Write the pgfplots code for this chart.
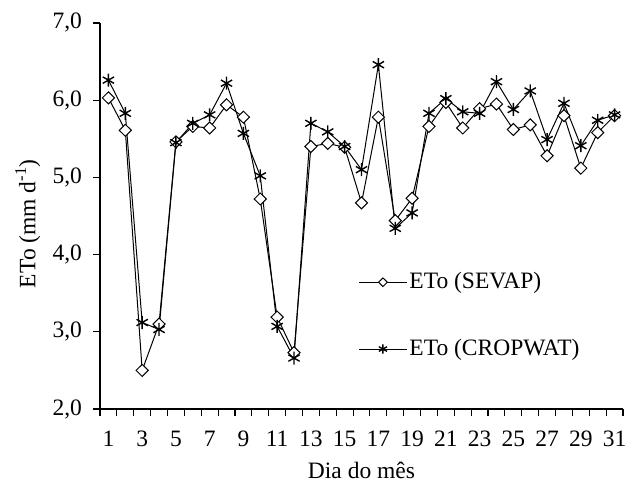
\documentclass[border=0pt]{standalone}
\usepackage{pgfplots}
\usepackage{pgfplotstable}
\pgfplotsset{compat=1.18}
\usepackage{fontspec}
\setmainfont{Liberation Serif}

\pgfplotstableread{
day sevap cropwat
1  6.03 6.26
2  5.61 5.83
3  2.50 3.12
4  3.10 3.03
5  5.46 5.45
6  5.66 5.70
7  5.64 5.81
8  5.94 6.22
9  5.78 5.57
10 4.72 5.02
11 3.19 3.07
12 2.73 2.66
13 5.40 5.70
14 5.44 5.59
15 5.39 5.40
16 4.67 5.10
17 5.78 6.46
18 4.44 4.34
19 4.73 4.54
20 5.66 5.83
21 5.97 6.02
22 5.64 5.85
23 5.89 5.83
24 5.95 6.24
25 5.62 5.88
26 5.68 6.12
27 5.28 5.49
28 5.80 5.96
29 5.12 5.41
30 5.58 5.74
31 5.80 5.81
}\etodata

\begin{document}
\fontsize{23.5}{28}\selectfont
\begin{tikzpicture}
\begin{axis}[
  scale only axis,
  width=523pt, height=386pt,
  xmin=0.5, xmax=31.5, ymin=2, ymax=7,
  axis x line*=bottom, axis y line*=left,
  axis line style={line width=1.1pt, -},
  tick style={line width=1.1pt, black},
  tick align=outside,
  major tick length=7pt,
  xtick={0.5,1.5,...,31.5},
  xticklabels={1,,3,,5,,7,,9,,11,,13,,15,,17,,19,,21,,23,,25,,27,,29,,31,},
  x tick label style={xshift=8.43pt, yshift=-7pt},
  ytick={2,3,...,7},
  y tick label style={xshift=-3pt},
  yticklabel style={/pgf/number format/.cd, fixed, fixed zerofill, precision=1, use comma},
  /pgf/number format/assume math mode=true,
  xlabel={Dia do mês},
  ylabel={ETo (mm d\textsuperscript{-1})},
  xlabel style={at={(axis description cs:0.5,-0.181)}, anchor=base},
  ylabel style={at={(axis description cs:-0.138,0.48)}, anchor=center},
  legend style={draw=none, fill=none, at={(axis description cs:0.488,0.365)},
    anchor=north west, row sep=43pt, font=\fontsize{23.5}{28}\selectfont},
  legend cell align=left,
  legend image code/.code={\draw[mark repeat=2, mark phase=2, every mark/.append style={scale=0.72}] plot coordinates {(0pt,0pt) (24pt,0pt) (48pt,0pt)};},
]
\addplot[black, line width=1pt, mark=diamond*, mark size=6pt,
  mark options={fill=white, xscale=1.35, line width=1pt}] table[x=day, y=sevap] {\etodata};
\addlegendentry{ETo (SEVAP)}
\addplot[black, line width=1pt, mark=asterisk, mark size=6.5pt,
  mark options={line width=1.4pt}] table[x=day, y=cropwat] {\etodata};
\addlegendentry{ETo (CROPWAT)}
\end{axis}
\pgfresetboundingbox
\path ([xshift=-100pt, yshift=-78pt]current axis.south west) rectangle ([xshift=7pt, yshift=23pt]current axis.north east);
\end{tikzpicture}
\end{document}
